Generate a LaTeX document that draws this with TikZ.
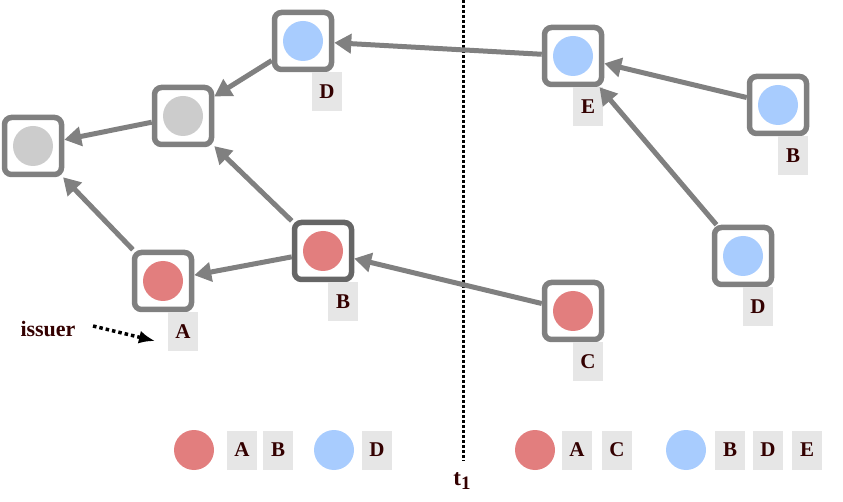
\documentclass[tikz,border=0pt]{standalone}
\usepackage{fontspec}
\setmainfont{Liberation Serif}
\usetikzlibrary{arrows.meta,positioning}
\definecolor{boxgray}{HTML}{808080}
\definecolor{redc}{HTML}{E27E7E}
\definecolor{bluec}{HTML}{A8CCFE}
\definecolor{grayc}{HTML}{CCCCCC}
\definecolor{tagbg}{HTML}{E6E6E6}
\definecolor{txt}{HTML}{330000}
\begin{document}
\begin{tikzpicture}[
    x=1pt, y=-1pt,
    blk/.style={rectangle, draw=boxgray, line width=5.5pt, rounded corners=7pt, fill=white,
        minimum size=57pt, inner sep=0pt,
        path picture={\fill[#1] (path picture bounding box.center) circle (20pt);}},
    tag/.style={fill=tagbg, minimum width=30pt, minimum height=39pt, inner sep=0pt,
        text=txt, font=\fontsize{21}{25}\selectfont\bfseries},
    dot/.style={circle, fill=#1, minimum size=40pt, inner sep=0pt},
    edge/.style={-{Triangle[length=17pt, width=19pt]}, draw=boxgray, line width=5pt}
]
    \useasboundingbox (0,0) rectangle (843,502);

    % time line
    \coordinate (top) at (463,0);
    \node[text=txt, font=\fontsize{23}{27}\selectfont\bfseries] (t1) at (462,481)
        {t\raisebox{-4pt}{\fontsize{19}{21}\selectfont 1}};
    \draw[line width=3pt, dash pattern=on 3pt off 2pt] (top) -- (463,461);

    % blocks before t1
    \node[blk=grayc] (gL) at (33,146) {};
    \node[blk=grayc] (gM) at (183,116) {};
    \node[blk=bluec] (dL) at (303,41) {};
    \node[blk=redc] (aL) at (163,281) {};
    \node[blk=redc, draw=black!60] (bL) at (323,251) {};

    % blocks after t1
    \node[blk=bluec] (eR) at (573,56) {};
    \node[blk=bluec] (bR) at (778,105) {};
    \node[blk=bluec] (dR) at (743,256) {};
    \node[blk=redc] (cR) at (573,311) {};

    % tags
    \node[tag, anchor=north] (dLt) at ([xshift=24pt]dL.south) {D};
    \node[tag, anchor=north] (aLt) at ([xshift=20pt]aL.south) {A};
    \node[tag, anchor=north] (bLt) at ([xshift=20pt]bL.south) {B};
    \node[tag, anchor=north] (eRt) at ([xshift=15pt]eR.south) {E};
    \node[tag, anchor=north] (bRt) at ([xshift=15pt]bR.south) {B};
    \node[tag, anchor=north] (dRt) at ([xshift=15pt]dR.south) {D};
    \node[tag, anchor=north] (cRt) at ([xshift=15pt]cR.south) {C};

    % links
    \draw[edge] (dL) -- (gM);
    \draw[edge] (gM) -- (gL);
    \draw[edge] (aL) -- (gL);
    \draw[edge] (bL) -- (gM);
    \draw[edge] (bL) -- (aL);
    \draw[edge] (cR) -- (bL);
    \draw[edge] (eR) -- (dL);
    \draw[edge] (bR) -- (eR);
    \draw[edge] (dR) -- (eR);

    % issuer
    \node[text=txt, font=\fontsize{22}{26}\selectfont\bfseries] (iss) at (48,329) {issuer};
    \coordinate (issEnd) at (155,341);
    \draw[-{Latex[length=16pt, width=13pt]}, line width=3.5pt, dash pattern=on 3.5pt off 3pt]
        (iss.east) ++(14pt,3pt) -- (issEnd);

    % legend
    \node[dot=redc] (l1) at (194,450) {};
    \node[tag] (l1a) at (242,450) {A};
    \node[tag] (l1b) at (278,450) {B};
    \node[dot=bluec] (l2) at (334,450) {};
    \node[tag] (l2d) at (377,450) {D};
    \node[dot=redc] (l3) at (535,450) {};
    \node[tag] (l3a) at (577,450) {A};
    \node[tag] (l3c) at (617,450) {C};
    \node[dot=bluec] (l4) at (686,450) {};
    \node[tag] (l4b) at (730,450) {B};
    \node[tag] (l4d) at (768,450) {D};
    \node[tag] (l4e) at (807,450) {E};
\end{tikzpicture}
\end{document}
